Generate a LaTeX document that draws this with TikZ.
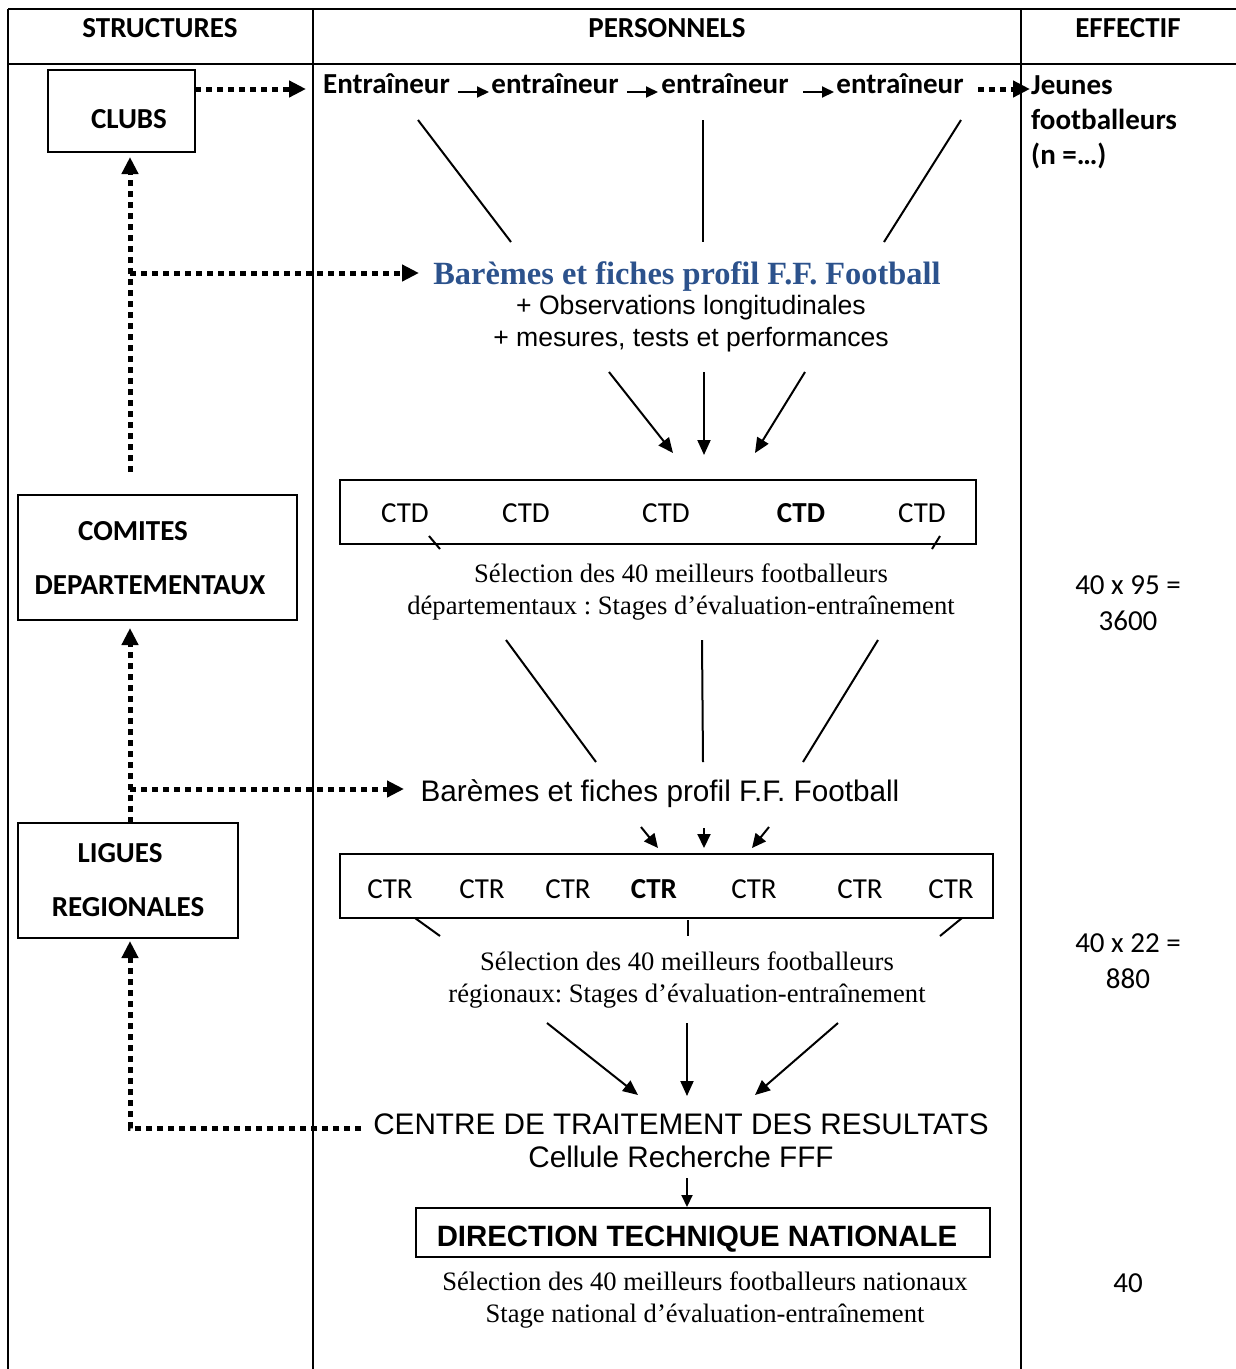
\documentclass[tikz,border=0pt]{standalone}
\usepackage{fontspec}
\setmainfont{Liberation Serif}
\newfontfamily\calib{Carlito}
\newfontfamily\arialf{Liberation Sans}
\newfontfamily\tmsf{Liberation Serif}
\usetikzlibrary{arrows.meta}
\frenchspacing
\definecolor{titleblue}{RGB}{44,82,140}
\tikzset{
  tbl/.style={line width=2.6pt},
  box/.style={draw, line width=1.8pt, inner sep=0pt},
  cb/.style={font=\calib\bfseries\fontsize{29}{35}\selectfont, inner sep=0pt, anchor=base},
  cr/.style={font=\calib\fontsize{29}{35}\selectfont, inner sep=0pt, anchor=base},
  ar/.style={font=\arialf\fontsize{29.7}{35}\selectfont, inner sep=0pt, anchor=base},
  ars/.style={font=\arialf\fontsize{26.6}{32}\selectfont, inner sep=0pt, anchor=base},
  tr/.style={font=\tmsf\fontsize{26.6}{32}\selectfont, inner sep=0pt, anchor=base},
  dotarr/.style={line width=5pt, dash pattern=on 6pt off 5pt, -{Triangle[length=17pt,width=16pt]}},
  sarr/.style={line width=2pt, -{Triangle[length=15pt,width=13pt]}},
  smarr/.style={line width=2pt, -{Triangle[length=12pt,width=11pt]}},
  midarr/.style={line width=2pt, -{Triangle[length=14pt,width=13pt]}},
  sline/.style={line width=2pt},
}
\begin{document}
\begin{tikzpicture}[x=1pt,y=-1pt]
\useasboundingbox (0,0) rectangle (1236,1369);
% table
\coordinate (tl) at (8,9); \coordinate (tr) at (1236,9);
\coordinate (hl) at (8,64); \coordinate (hr) at (1236,64);
\coordinate (v1t) at (313,9); \coordinate (v1b) at (313,1369);
\coordinate (v2t) at (1021,9); \coordinate (v2b) at (1021,1369);
\coordinate (bl) at (8,1369);
\draw[tbl] (tl) -- (tr);
\draw[tbl] (hl) -- (hr);
\draw[tbl] (tl) -- (bl);
\draw[tbl] (v1t) -- (v1b);
\draw[tbl] (v2t) -- (v2b);
% headers
\node[cb] (hs) at (160,37) {STRUCTURES};
\node[cb] (hp) at (667,37) {PERSONNELS};
\node[cb] (he) at (1128,37) {EFFECTIF};
% left boxes
\node[box, minimum width=147pt, minimum height=82pt] (clubs) at (121.5,111) {};
\node[cb] (clubst) at (129,128) {CLUBS};
\node[box, minimum width=279pt, minimum height=125pt] (comites) at (157.5,557.5) {};
\node[cb] (comt1) at (133,540) {COMITES};
\node[cb] (comt2) at (150,594) {DEPARTEMENTAUX};
\node[box, minimum width=220pt, minimum height=115pt] (ligues) at (128,880.5) {};
\node[cb] (ligt1) at (120,862) {LIGUES};
\node[cb] (ligt2) at (128,916) {REGIONALES};
% entraineurs row
\node[cb] (e1) at (386.5,93) {Entraîneur};
\node[cb] (e2) at (555,93) {entraîneur};
\node[cb] (e3) at (725,93) {entraîneur};
\node[cb] (e4) at (900,93) {entraîneur};
\node[cb, anchor=base west] (j1) at (1031,94) {Jeunes};
\node[cb, anchor=base west] (j2) at (1031,129) {footballeurs};
\node[cb, anchor=base west] (j3) at (1031,164) {(n =…)};
\coordinate (a1s) at (458,92); \coordinate (a1e) at (489,92);
\coordinate (a2s) at (627,92); \coordinate (a2e) at (658,92);
\coordinate (a3s) at (803,92); \coordinate (a3e) at (834,92);
\draw[smarr] (a1s) -- (a1e);
\draw[smarr] (a2s) -- (a2e);
\draw[smarr] (a3s) -- (a3e);
\coordinate (dj1) at (978,89); \coordinate (dj2) at (1030,89);
\draw[dotarr] (dj1) -- (dj2);
% lines from entraineurs
\coordinate (l1a) at (418,120); \coordinate (l1b) at (511,242);
\coordinate (l2a) at (703,120); \coordinate (l2b) at (703,242);
\coordinate (l3a) at (961,120); \coordinate (l3b) at (884,242);
\draw[sline] (l1a) -- (l1b);
\draw[sline] (l2a) -- (l2b);
\draw[sline] (l3a) -- (l3b);
% bareme block 1
\node[font=\tmsf\bfseries\fontsize{32.4}{38}\selectfont, text=titleblue, inner sep=0pt, anchor=base] (bar1) at (687,284) {Barèmes et fiches profil F.F. Football};
\node[ars] (obs1) at (691,314) {+ Observations longitudinales};
\node[ars] (obs2) at (691,346) {+ mesures, tests et performances};
% dotted arrows left
\coordinate (cl1) at (195,89); \coordinate (cl2) at (306,89);
\draw[dotarr] (cl1) -- (cl2);
\coordinate (v1s) at (130,472); \coordinate (v1e) at (130,157);
\draw[dotarr] (v1s) -- (v1e);
\coordinate (h1s) at (130,273); \coordinate (h1e) at (419,273);
\draw[dotarr] (h1s) -- (h1e);
% arrows to CTD
\coordinate (b1a) at (609,372); \coordinate (b1b) at (673,453);
\coordinate (b2a) at (704,372); \coordinate (b2b) at (704,455);
\coordinate (b3a) at (805,372); \coordinate (b3b) at (755,453);
\draw[sarr] (b1a) -- (b1b);
\draw[sarr] (b2a) -- (b2b);
\draw[sarr] (b3a) -- (b3b);
% CTD box
\node[box, minimum width=636pt, minimum height=64pt] (ctd) at (658,512) {};
\node[cr] (ctd1) at (405,522) {CTD};
\node[cr] (ctd2) at (526,522) {CTD};
\node[cr] (ctd3) at (666,522) {CTD};
\node[cb] (ctd4) at (801,522) {CTD};
\node[cr] (ctd5) at (922,522) {CTD};
\coordinate (s1a) at (429,536); \coordinate (s1b) at (440,549);
\coordinate (s2a) at (940,536); \coordinate (s2b) at (932,549);
\draw[sline] (s1a) -- (s1b);
\draw[sline] (s2a) -- (s2b);
\node[tr] (sd1) at (681,582) {Sélection des 40 meilleurs footballeurs};
\node[tr] (sd2) at (681,614) {départementaux : Stages d’évaluation-entraînement};
\node[cr] (ef1) at (1128,594) {40 x 95 =};
\node[cr] (ef2) at (1128,630) {3600};
% lines to bareme 2
\coordinate (m1a) at (506,640); \coordinate (m1b) at (596,762);
\coordinate (m2a) at (702,640); \coordinate (m2b) at (703,762);
\coordinate (m3a) at (878,640); \coordinate (m3b) at (803,762);
\draw[sline] (m1a) -- (m1b);
\draw[sline] (m2a) -- (m2b);
\draw[sline] (m3a) -- (m3b);
\node[ar] (bar2) at (660,801) {Barèmes et fiches profil F.F. Football};
\coordinate (v2s) at (130,823); \coordinate (v2e) at (130,628);
\draw[dotarr] (v2s) -- (v2e);
\coordinate (h2s) at (130,789); \coordinate (h2e) at (404,789);
\draw[dotarr] (h2s) -- (h2e);
% small arrows to CTR
\coordinate (n1a) at (641,827); \coordinate (n1b) at (658,848);
\coordinate (n2a) at (704,828); \coordinate (n2b) at (704,848);
\coordinate (n3a) at (769,827); \coordinate (n3b) at (752,848);
\draw[midarr] (n1a) -- (n1b);
\draw[midarr] (n2a) -- (n2b);
\draw[midarr] (n3a) -- (n3b);
% CTR box
\node[box, minimum width=653pt, minimum height=64pt] (ctr) at (666.5,886) {};
\node[cr] (ctr1) at (390,898) {CTR};
\node[cr] (ctr2) at (482,898) {CTR};
\node[cr] (ctr3) at (568,898) {CTR};
\node[cb] (ctr4) at (654,898) {CTR};
\node[cr] (ctr5) at (754,898) {CTR};
\node[cr] (ctr6) at (860,898) {CTR};
\node[cr] (ctr7) at (951,898) {CTR};
\coordinate (r1a) at (415,918); \coordinate (r1b) at (440,936);
\coordinate (r2a) at (688,920); \coordinate (r2b) at (688,936);
\coordinate (r3a) at (962,918); \coordinate (r3b) at (940,936);
\draw[sline] (r1a) -- (r1b);
\draw[sline] (r2a) -- (r2b);
\draw[sline] (r3a) -- (r3b);
\node[tr] (sr1) at (687,970) {Sélection des 40 meilleurs footballeurs};
\node[tr] (sr2) at (687,1002) {régionaux: Stages d’évaluation-entraînement};
\node[cr] (ef3) at (1128,952) {40 x 22 =};
\node[cr] (ef4) at (1128,988) {880};
% arrows to centre
\coordinate (p1a) at (547,1023); \coordinate (p1b) at (638,1095);
\coordinate (p2a) at (687,1023); \coordinate (p2b) at (687,1096);
\coordinate (p3a) at (838,1023); \coordinate (p3b) at (755,1095);
\draw[sarr] (p1a) -- (p1b);
\draw[sarr] (p2a) -- (p2b);
\draw[sarr] (p3a) -- (p3b);
\node[ar] (ctre) at (681,1134) {CENTRE DE TRAITEMENT DES RESULTATS};
\node[ar] (cell) at (681,1167) {Cellule Recherche FFF};
\coordinate (q1) at (361,1128); \coordinate (q2) at (130,1128); \coordinate (q3) at (130,941);
\draw[dotarr] (q1) -- (q2) -- (q3);
% DTN
\coordinate (t1) at (687,1178); \coordinate (t2) at (687,1207);
\draw[smarr] (t1) -- (t2);
\node[box, minimum width=574pt, minimum height=49pt] (dtn) at (703,1232.5) {};
\node[font=\arialf\bfseries\fontsize{29.4}{35}\selectfont, inner sep=0pt, anchor=base] (dtnt) at (697,1246) {DIRECTION TECHNIQUE NATIONALE};
\node[tr] (sn1) at (705,1290) {Sélection des 40 meilleurs footballeurs nationaux};
\node[tr] (sn2) at (705,1322) {Stage national d’évaluation-entraînement};
\node[cr] (ef5) at (1128,1292) {40};
\end{tikzpicture}
\end{document}
